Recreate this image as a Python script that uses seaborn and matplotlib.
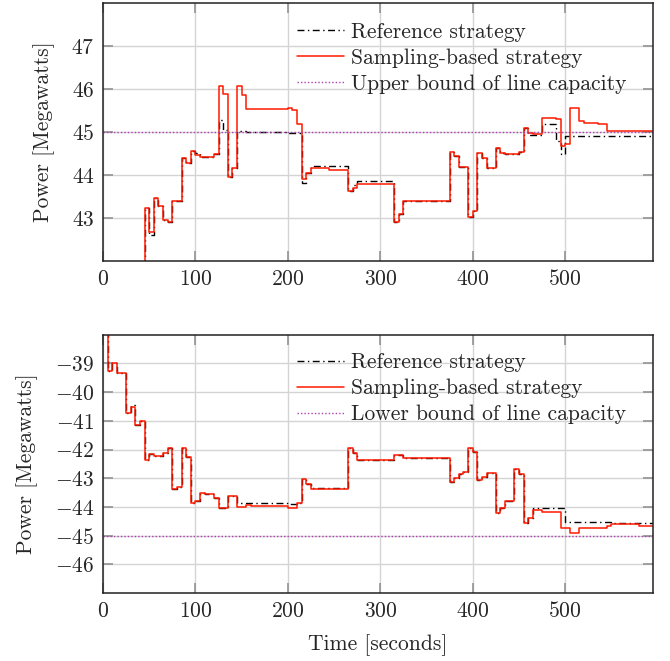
import numpy as np
import pandas as pd
import seaborn as sns
import matplotlib.pyplot as plt

# ---- data ----
t_top = [0, 45, 50, 55, 60, 65, 70, 75, 85, 90, 95, 100, 105, 120, 125, 130, 135, 140, 145, 150,
         155, 200, 205, 210, 215, 220, 225, 245, 265, 270, 275, 315, 320, 325, 375, 380, 385, 395,
         400, 405, 410, 415, 425, 430, 435, 450, 455, 460, 465, 475, 490, 495, 500, 505, 515, 520,
         535, 545, 560, 600]
sampling_top = [40.0, 43.23, 42.68, 43.46, 43.27, 42.95, 42.91, 43.40, 44.40, 44.29, 44.56, 44.47,
                44.43, 44.49, 46.07, 45.88, 43.96, 44.16, 46.07, 45.86, 45.55, 45.57, 45.52, 45.20,
                43.90, 44.04, 44.17, 44.13, 43.63, 43.71, 43.79, 42.91, 43.09, 43.40, 44.54, 44.44,
                44.18, 43.02, 43.17, 44.52, 44.39, 44.17, 44.64, 44.52, 44.49, 44.54, 45.10, 44.97,
                44.95, 45.32, 45.31, 44.68, 44.72, 45.57, 45.26, 45.21, 45.18, 45.03, 45.02, 45.02]
reference_top = [40.0, 43.23, 42.60, 43.46, 43.27, 42.95, 42.91, 43.40, 44.40, 44.29, 44.56, 44.52,
                 44.43, 44.49, 45.28, 45.05, 43.96, 44.16, 45.03, 45.02, 45.00, 44.98, 44.98, 44.98,
                 43.82, 44.04, 44.21, 44.21, 43.63, 43.78, 43.86, 42.91, 43.09, 43.40, 44.54, 44.44,
                 44.18, 43.02, 43.17, 44.52, 44.39, 44.17, 44.64, 44.52, 44.49, 44.54, 45.10, 44.93,
                 44.93, 45.20, 44.80, 44.50, 44.90, 44.90, 44.90, 44.90, 44.90, 44.90, 44.90, 44.90]

t_bot = [0, 5, 10, 15, 25, 30, 35, 40, 45, 50, 55, 65, 70, 75, 80, 85, 90, 95, 100, 105, 110, 120,
         125, 135, 145, 155, 160, 200, 210, 215, 220, 225, 265, 270, 275, 315, 325, 375, 380, 385,
         390, 395, 400, 405, 410, 415, 425, 430, 435, 445, 450, 455, 460, 465, 475, 495, 500, 505,
         515, 545, 550, 570, 580, 600]
sampling_bot = [-37.5, -39.27, -39.00, -39.35, -40.72, -40.51, -41.15, -41.01, -42.37, -42.17, -42.22,
                -42.12, -41.94, -43.39, -43.30, -41.95, -42.25, -43.86, -43.80, -43.51, -43.56, -43.70,
                -44.03, -43.61, -44.02, -43.94, -43.98, -44.04, -43.87, -43.03, -43.20, -43.38, -41.93,
                -42.12, -42.37, -42.20, -42.28, -43.12, -43.00, -42.86, -42.78, -41.95, -42.07, -43.07,
                -42.96, -42.81, -44.23, -44.05, -43.79, -42.69, -42.87, -44.55, -44.40, -44.11, -44.17,
                -44.75, -44.75, -44.92, -44.75, -44.68, -44.61, -44.60, -44.66, -44.66]
reference_bot = [-37.5, -39.27, -39.00, -39.35, -40.72, -40.45, -41.15, -41.01, -42.37, -42.17, -42.22,
                 -42.12, -41.94, -43.39, -43.30, -41.95, -42.25, -43.86, -43.80, -43.51, -43.56, -43.70,
                 -44.03, -43.61, -43.88, -43.88, -43.87, -43.90, -43.87, -43.03, -43.20, -43.35, -41.93,
                 -42.12, -42.37, -42.20, -42.28, -43.12, -43.00, -42.86, -42.78, -41.95, -42.07, -43.07,
                 -42.96, -42.81, -44.23, -44.05, -43.79, -42.69, -42.87, -44.55, -44.40, -44.05, -44.05,
                 -44.05, -44.52, -44.52, -44.52, -44.52, -44.55, -44.55, -44.55, -44.55]

upper_bound = 45
lower_bound = -45

sns.set_theme(style='whitegrid')
plt.rcParams['font.family'] = 'cmr10'
plt.rcParams['mathtext.fontset'] = 'cm'
plt.rcParams['axes.formatter.use_mathtext'] = True
plt.rcParams['axes.unicode_minus'] = True

fs = 15.5
fig = plt.figure(figsize=(6.7, 6.61), dpi=100)
ax1 = fig.add_axes([0.1537, 0.6051, 0.8209, 0.3899])
ax2 = fig.add_axes([0.1537, 0.1029, 0.8209, 0.3907])


def draw(ax, t, ref, samp, bound, bound_label, ylim, yticks, leg_y):
    sns.lineplot(x=t, y=ref, ax=ax, drawstyle='steps-post', color='black', lw=1.0,
                 dashes=False, linestyle=(0, (5, 2.5, 1, 2.5)), label='Reference strategy')
    sns.lineplot(x=t, y=samp, ax=ax, drawstyle='steps-post', color='#ff1a00', lw=1.1,
                 label='Sampling-based strategy')
    ax.axhline(bound, color='#b040b0', lw=1.0, linestyle=(0, (1, 1.5)), label=bound_label)
    ax.set_xlim(0, 595)
    ax.set_ylim(*ylim)
    ax.set_xticks([0, 100, 200, 300, 400, 500])
    ax.set_yticks(yticks)
    ax.grid(True, color='#d4d4d4', lw=1.0)
    for s in ax.spines.values():
        s.set_color('#222222')
        s.set_linewidth(1.1)
    ax.tick_params(axis='both', which='both', direction='in', length=7, width=1.3,
                   color='#999999', top=True, right=True, bottom=True, left=True,
                   labelsize=fs, pad=6)
    ax.set_ylabel('Power [Megawatts]', fontsize=fs, labelpad=12)
    ax.legend(loc='upper left', bbox_to_anchor=(0.352, leg_y), frameon=False, fontsize=fs,
              handlelength=2.2, handletextpad=0.35, labelspacing=0.3, borderpad=0,
              borderaxespad=0)


draw(ax1, t_top, reference_top, sampling_top, upper_bound, 'Upper bound of line capacity',
     (42, 48), [43, 44, 45, 46, 47], 0.926)
draw(ax2, t_bot, reference_bot, sampling_bot, lower_bound, 'Lower bound of line capacity',
     (-47, -38), [-46, -45, -44, -43, -42, -41, -40, -39], 0.93)
ax2.set_xlabel('Time [seconds]', fontsize=fs, labelpad=9)

fig.savefig('out.png', dpi=100)
